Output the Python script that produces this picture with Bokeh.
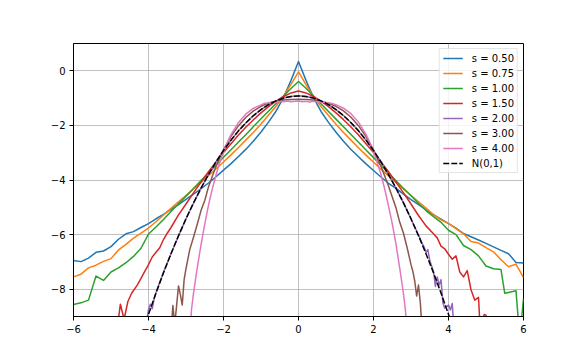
from bokeh.plotting import figure
from bokeh.models import Range1d, FixedTicker, CustomJSTickFormatter
from bokeh.embed import file_html
from bokeh.resources import INLINE

# ---- data (log density estimates) ----
x_grid = [-6.0, -5.8, -5.6, -5.4, -5.2, -5.0, -4.8, -4.6, -4.4, -4.2, -4.0, -3.8, -3.6, -3.4, -3.2,
          -3.0, -2.8, -2.6, -2.4, -2.2, -2.0, -1.8, -1.6, -1.4, -1.2, -1.0, -0.8, -0.6, -0.4, -0.2,
          0.0, 0.2, 0.4, 0.6, 0.8, 1.0, 1.2, 1.4, 1.6, 1.8, 2.0, 2.2, 2.4, 2.6, 2.8, 3.0, 3.2, 3.4,
          3.6, 3.8, 4.0, 4.2, 4.4, 4.6, 4.8, 5.0, 5.2, 5.4, 5.6, 5.8, 6.0]

y_s050 = [-6.95, -6.99, -6.86, -6.65, -6.60, -6.44, -6.17, -5.97, -5.89, -5.74, -5.60, -5.42, -5.26,
          -5.08, -4.90, -4.71, -4.52, -4.32, -4.11, -3.88, -3.64, -3.40, -3.14, -2.87, -2.57, -2.24,
          -1.88, -1.48, -0.98, -0.35, 0.34, -0.35, -0.98, -1.49, -1.89, -2.25, -2.58, -2.88, -3.15,
          -3.41, -3.65, -3.89, -4.12, -4.31, -4.52, -4.72, -4.90, -5.09, -5.27, -5.43, -5.60, -5.76,
          -5.96, -6.08, -6.20, -6.32, -6.45, -6.58, -6.70, -7.02, -7.04]

y_s075 = [-7.55, -7.45, -7.22, -7.12, -6.98, -6.88, -6.56, -6.36, -6.13, -5.95, -5.76, -5.53, -5.28,
          -5.04, -4.80, -4.57, -4.33, -4.09, -3.84, -3.59, -3.34, -3.08, -2.81, -2.53, -2.25, -1.95,
          -1.63, -1.30, -0.93, -0.50, -0.04, -0.51, -0.94, -1.31, -1.64, -1.96, -2.26, -2.54, -2.82,
          -3.09, -3.35, -3.60, -3.85, -4.09, -4.33, -4.56, -4.80, -5.03, -5.27, -5.46, -5.59, -5.78,
          -5.97, -6.25, -6.31, -6.48, -6.63, -6.92, -7.18, -7.08, -7.58]

x_s100 = x_grid[:58] + [5.5, 5.6, 5.8, 5.9, 6.0]
y_s100 = [-8.56, -8.50, -8.40, -7.52, -7.68, -7.37, -7.22, -7.03, -6.80, -6.50, -5.98, -5.72, -5.45,
          -5.15, -4.87, -4.59, -4.31, -4.02, -3.74, -3.46, -3.17, -2.89, -2.61, -2.33, -2.04, -1.76,
          -1.48, -1.20, -0.92, -0.65, -0.39, -0.64, -0.92, -1.21, -1.49, -1.77, -2.05, -2.33, -2.62,
          -2.90, -3.18, -3.46, -3.75, -4.03, -4.31, -4.58, -4.86, -5.12, -5.34, -5.55, -5.84, -6.00,
          -6.40, -6.55, -6.78, -7.15, -7.25, -7.28, -8.15, -8.12, -8.06, -9.8, -8.35]

x_s150 = [-4.85, -4.75, -4.65, -4.55, -4.45, -4.3, -4.2, -4.1, -4.0, -3.9, -3.8, -3.7, -3.6, -3.5,
          -3.4, -3.2, -3.0, -2.8, -2.6, -2.4, -2.2, -2.0, -1.8, -1.6, -1.4, -1.2, -1.0, -0.8, -0.6,
          -0.4, -0.2, 0.0, 0.2, 0.4, 0.6, 0.8, 1.0, 1.2, 1.4, 1.6, 1.8, 2.0, 2.2, 2.4, 2.6, 2.8, 3.0,
          3.2, 3.4, 3.6, 3.7, 3.8, 3.9, 4.0, 4.1, 4.2, 4.3, 4.4, 4.5, 4.6, 4.7, 4.8, 4.85, 4.95, 5.0,
          5.05]
y_s150 = [-9.6, -8.55, -9.1, -8.45, -8.15, -7.85, -7.60, -7.35, -7.10, -6.82, -6.65, -6.48, -6.18,
          -5.95, -5.74, -5.28, -4.88, -4.47, -4.08, -3.70, -3.34, -2.99, -2.67, -2.35, -2.06, -1.79,
          -1.54, -1.31, -1.11, -0.94, -0.81, -0.74, -0.81, -0.94, -1.11, -1.31, -1.54, -1.79, -2.06,
          -2.35, -2.67, -2.99, -3.34, -3.70, -4.08, -4.47, -4.88, -5.30, -5.68, -5.97, -6.12, -6.42,
          -6.52, -6.72, -6.90, -6.78, -7.37, -7.55, -7.32, -8.02, -8.40, -8.30, -9.6, -8.93, -8.95,
          -9.7]

x_s200 = [-4.1, -4.0, -3.95, -3.9, -3.85, -3.8, -3.7, -3.6, -3.4, -3.2, -3.0, -2.8, -2.6, -2.4,
          -2.2, -2.0, -1.8, -1.6, -1.4, -1.2, -1.0, -0.8, -0.6, -0.4, -0.2, 0.0, 0.2, 0.4, 0.6, 0.8,
          1.0, 1.2, 1.4, 1.6, 1.8, 2.0, 2.2, 2.4, 2.6, 2.8, 3.0, 3.2, 3.3, 3.35, 3.4, 3.45, 3.5, 3.6,
          3.65, 3.7, 3.75, 3.8, 3.85, 3.9, 4.0, 4.05, 4.1, 4.15]
y_s200 = [-9.6, -8.75, -8.55, -8.72, -8.35, -8.12, -7.75, -7.38, -6.70, -6.05, -5.42, -4.85, -4.30,
          -3.80, -3.34, -2.92, -2.54, -2.20, -1.90, -1.64, -1.42, -1.24, -1.10, -1.00, -0.94, -0.91,
          -0.94, -1.00, -1.10, -1.24, -1.42, -1.64, -1.90, -2.20, -2.54, -2.92, -3.34, -3.80, -4.30,
          -4.84, -5.42, -6.02, -6.33, -6.45, -6.65, -6.55, -6.95, -7.35, -7.90, -7.55, -7.85, -7.65,
          -8.50, -8.70, -8.58, -8.76, -8.52, -9.6]

x_s300 = [-3.4, -3.35, -3.3, -3.2, -3.15, -3.1, -3.05, -3.0, -2.9, -2.8, -2.7, -2.6, -2.5, -2.4,
          -2.2, -2.0, -1.8, -1.6, -1.4, -1.2, -1.0, -0.8, -0.6, -0.4, -0.2, 0.0, 0.2, 0.4, 0.6, 0.8,
          1.0, 1.2, 1.4, 1.6, 1.8, 2.0, 2.2, 2.4, 2.5, 2.6, 2.7, 2.8, 2.9, 3.0, 3.05, 3.1, 3.15, 3.2,
          3.25, 3.3]
y_s300 = [-9.6, -8.60, -9.3, -7.88, -8.20, -8.58, -7.65, -7.25, -6.55, -6.10, -5.62, -5.12, -4.75,
          -4.25, -3.50, -2.89, -2.40, -2.01, -1.70, -1.47, -1.30, -1.18, -1.11, -1.07, -1.05, -1.04,
          -1.05, -1.07, -1.12, -1.19, -1.30, -1.47, -1.70, -2.01, -2.41, -2.90, -3.50, -4.22, -4.62,
          -5.02, -5.55, -5.95, -6.50, -7.10, -7.35, -7.70, -8.25, -7.85, -8.52, -9.6]

x_s400 = [-2.9, -2.85, -2.8, -2.75, -2.7, -2.6, -2.5, -2.4, -2.3, -2.2, -2.1, -2.0, -1.9, -1.8,
          -1.6, -1.4, -1.2, -1.0, -0.9, -0.8, -0.7, -0.6, -0.5, -0.4, -0.3, -0.2, -0.1, 0.0, 0.1,
          0.2, 0.3, 0.4, 0.5, 0.6, 0.7, 0.8, 0.9, 1.0, 1.2, 1.4, 1.6, 1.8, 1.9, 2.0, 2.1, 2.2, 2.3,
          2.4, 2.5, 2.6, 2.7, 2.75, 2.8, 2.85, 2.9]
y_s400 = [-9.6, -8.70, -8.15, -7.68, -7.22, -6.38, -5.62, -4.92, -4.33, -3.82, -3.36, -2.97, -2.63,
          -2.34, -1.89, -1.58, -1.37, -1.25, -1.19, -1.18, -1.14, -1.15, -1.12, -1.13, -1.11, -1.13,
          -1.12, -1.11, -1.13, -1.12, -1.14, -1.12, -1.13, -1.14, -1.15, -1.17, -1.20, -1.24, -1.37,
          -1.57, -1.88, -2.33, -2.62, -2.96, -3.37, -3.80, -4.34, -4.95, -5.60, -6.35, -7.24, -7.70,
          -8.18, -8.75, -9.6]

x_norm = [-4.2, -4.0, -3.8, -3.6, -3.4, -3.2, -3.0, -2.8, -2.6, -2.4, -2.2, -2.0, -1.8, -1.6, -1.4,
          -1.2, -1.0, -0.8, -0.6, -0.4, -0.2, 0.0, 0.2, 0.4, 0.6, 0.8, 1.0, 1.2, 1.4, 1.6, 1.8, 2.0,
          2.2, 2.4, 2.6, 2.8, 3.0, 3.2, 3.4, 3.6, 3.8, 4.0, 4.2]
y_norm = [-9.74, -8.92, -8.14, -7.40, -6.70, -6.04, -5.42, -4.84, -4.30, -3.80, -3.34, -2.92, -2.54,
          -2.20, -1.90, -1.64, -1.42, -1.24, -1.10, -1.00, -0.94, -0.92, -0.94, -1.00, -1.10, -1.24,
          -1.42, -1.64, -1.90, -2.20, -2.54, -2.92, -3.34, -3.80, -4.30, -4.84, -5.42, -6.04, -6.70,
          -7.40, -8.14, -8.92, -9.74]

series = [
    ("s = 0.50", x_grid, y_s050, "#1f77b4"),
    ("s = 0.75", x_grid, y_s075, "#ff7f0e"),
    ("s = 1.00", x_s100, y_s100, "#2ca02c"),
    ("s = 1.50", x_s150, y_s150, "#d62728"),
    ("s = 2.00", x_s200, y_s200, "#9467bd"),
    ("s = 3.00", x_s300, y_s300, "#8c564b"),
    ("s = 4.00", x_s400, y_s400, "#e377c2"),
]

x_ticks = [-6, -4, -2, 0, 2, 4, 6]
y_ticks = [-8, -6, -4, -2, 0]

FONT = "DejaVu Sans"

p = figure(frame_width=450, frame_height=273,
           min_border_left=73, min_border_right=58, min_border_top=43, min_border_bottom=43,
           x_range=Range1d(-6, 6), y_range=Range1d(-9, 1),
           output_backend="svg", toolbar_location=None,
           background_fill_color="white", border_fill_color="white")

for label, xs, ys, col in series:
    p.line(xs, ys, line_color=col, line_width=1.5, line_join="round", legend_label=label)
p.line(x_norm, y_norm, line_color="black", line_width=1.5, line_dash="6 2",
       legend_label="N(0,1)")

fmt = CustomJSTickFormatter(code="return tick < 0 ? '\u2212' + (-tick) : '' + tick;")

for ax, ticks in ((p.xaxis[0], x_ticks), (p.yaxis[0], y_ticks)):
    ax.ticker = FixedTicker(ticks=ticks)
    ax.formatter = fmt
    ax.axis_line_color = "black"
    ax.axis_line_width = 1
    ax.major_tick_line_color = "black"
    ax.major_tick_out = 4
    ax.major_tick_in = 0
    ax.minor_tick_out = 0
    ax.minor_tick_in = 0
    ax.major_label_text_font = FONT
    ax.major_label_text_font_size = "10px"
    ax.major_label_text_color = "black"
    ax.major_label_standoff = 4

p.outline_line_color = "black"
p.outline_line_width = 1
p.grid.grid_line_color = "#b0b0b0"
p.grid.grid_line_width = 0.8
p.xgrid.ticker = FixedTicker(ticks=x_ticks)
p.ygrid.ticker = FixedTicker(ticks=y_ticks)

lg = p.legend[0]
lg.location = "top_right"
lg.margin = 5
lg.padding = 3
lg.spacing = 3
lg.glyph_width = 20
lg.glyph_height = 12
lg.label_height = 12
lg.label_standoff = 9
lg.label_text_font = FONT
lg.label_text_font_size = "10px"
lg.label_text_color = "black"
lg.border_line_color = "#cccccc"
lg.border_line_width = 1
lg.background_fill_color = "white"
lg.background_fill_alpha = 0.8

open("out.html", "w").write(file_html(p, INLINE))
